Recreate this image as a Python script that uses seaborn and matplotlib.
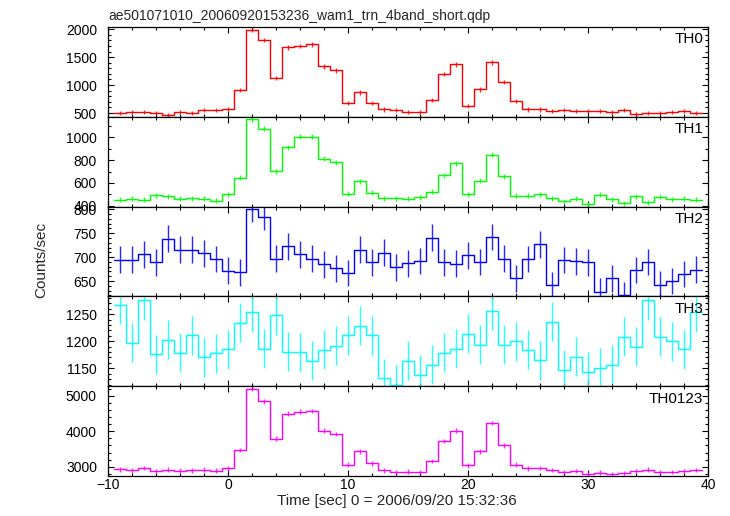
import numpy as np
import pandas as pd
import seaborn as sns
import matplotlib.pyplot as plt
from matplotlib.ticker import MultipleLocator

# bin centres [sec], 1 s bins
time = np.arange(-9, 40)

th0 = [495, 518, 518, 500, 464, 512, 494, 554, 560, 577,
       917, 1988, 1804, 1131, 1673, 1696, 1726, 1333, 1262, 673,
       869, 673, 565, 554, 524, 518, 738, 1196, 1369, 625,
       923, 1405, 1054, 714, 565, 565, 536, 548, 536, 536,
       530, 518, 548, 476, 494, 494, 524, 536, 500]
th1 = [451, 463, 451, 492, 483, 463, 466, 463, 445, 501,
       647, 1158, 1076, 702, 912, 1006, 1003, 813, 781, 504,
       615, 512, 466, 466, 460, 474, 521, 667, 772, 501,
       620, 845, 658, 486, 489, 501, 466, 439, 463, 413,
       495, 457, 422, 483, 431, 480, 457, 463, 451]
th2 = [695, 695, 706, 689, 739, 716, 716, 708, 696, 672,
       668, 801, 784, 697, 723, 706, 697, 685, 677, 667,
       716, 689, 709, 679, 687, 692, 741, 689, 686, 704,
       690, 742, 697, 656, 696, 727, 641, 694, 691, 689,
       628, 656, 621, 673, 690, 642, 650, 665, 674]
th3 = [1267, 1197, 1276, 1176, 1203, 1179, 1211, 1170, 1178, 1185,
       1234, 1254, 1186, 1248, 1181, 1180, 1164, 1184, 1192, 1211,
       1229, 1211, 1132, 1120, 1164, 1138, 1157, 1179, 1186, 1214,
       1194, 1256, 1194, 1200, 1184, 1165, 1236, 1147, 1171, 1144,
       1151, 1157, 1208, 1190, 1276, 1208, 1200, 1185, 1254]
th0123 = [2925, 2897, 2962, 2878, 2915, 2887, 2897, 2915, 2887, 2953,
          3469, 5188, 4840, 3789, 4493, 4549, 4577, 4014, 3920, 3056,
          3432, 3094, 2897, 2850, 2859, 2850, 3160, 3723, 4014, 3037,
          3432, 4230, 3601, 3056, 2953, 2962, 2906, 2850, 2878, 2784,
          2831, 2793, 2812, 2878, 2915, 2850, 2850, 2878, 2906]

# approximate 1-sigma errors per band (read from error bar lengths)
errors = [38, 22, 28, 36, 65]

names = ["TH0", "TH1", "TH2", "TH3", "TH0123"]
colors = ["#ff0000", "#00ff00", "#0000ff", "#00ffff", "#ff00ff"]
ylims = [(435, 2042), (393, 1181), (618, 806), (1117, 1283), (2737, 5272)]
major = [500, 200, 50, 50, 1000]
minor = [100, 100, 10, 10, 200]

sns.set_theme(style="ticks")
plt.rcParams["font.family"] = ["Liberation Sans", "DejaVu Sans"]

fig, axes = plt.subplots(5, 1, figsize=(7.3, 5.16), dpi=100, sharex=True)
fig.subplots_adjust(left=0.148, right=0.970, top=0.948, bottom=0.0775, hspace=0)

series = [th0, th1, th2, th3, th0123]

for i, ax in enumerate(axes):
    df = pd.DataFrame({"time": time, "rate": series[i]})
    sns.histplot(data=df, x="time", weights="rate", binwidth=1,
                 binrange=(time[0] - 0.5, time[-1] + 0.5), element="step",
                 fill=False, color=colors[i], linewidth=1.0, ax=ax)
    ax.errorbar(df["time"], df["rate"], yerr=errors[i], fmt="none",
                ecolor=colors[i], elinewidth=1.0, alpha=0.85)
    ax.set_ylim(*ylims[i])
    ax.set_xlim(-10, 40)
    ax.set_ylabel("")
    ax.set_xlabel("")
    ax.yaxis.set_major_locator(MultipleLocator(major[i]))
    ax.yaxis.set_minor_locator(MultipleLocator(minor[i]))
    ax.xaxis.set_major_locator(MultipleLocator(10))
    ax.xaxis.set_minor_locator(MultipleLocator(2))
    ax.tick_params(which="both", direction="in", top=True, right=True,
                   labelsize=10, colors="black", width=0.8)
    ax.tick_params(which="major", length=4.5)
    ax.tick_params(which="minor", length=2.5)
    ax.tick_params(axis="y", which="major", pad=8)
    ax.tick_params(axis="x", which="major", pad=1.5)
    for sp in ax.spines.values():
        sp.set_linewidth(0.9)
        sp.set_color("black")
    ax.text(0.992, 0.94, names[i], transform=ax.transAxes, ha="right", va="top",
            fontsize=11, color="black")

fig.text(0.148, 0.961, "ae501071010_20060920153236_wam1_trn_4band_short.qdp",
         ha="left", va="baseline", fontsize=10)
fig.text(0.057, 0.496, "Counts/sec", rotation=90, ha="center", va="center", fontsize=11)
fig.text(0.543, 0.0213, "Time [sec] 0 = 2006/09/20 15:32:36", ha="center", va="baseline",
         fontsize=11)

plt.savefig("out.png", dpi=100)
